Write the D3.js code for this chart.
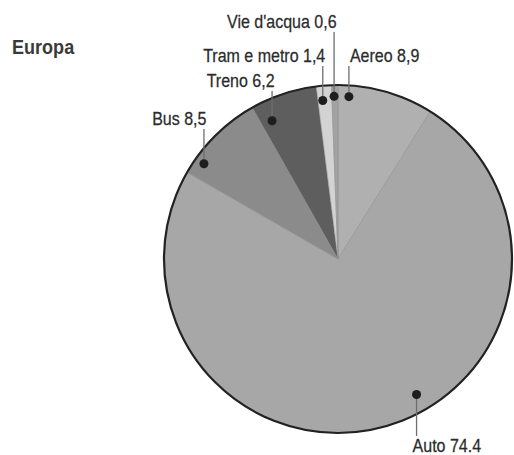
<!DOCTYPE html>
<html>
<head>
<meta charset="utf-8">
<script src="https://cdn.jsdelivr.net/npm/d3@7/dist/d3.min.js"></script>
<style>
  html, body { margin: 0; padding: 0; background: #fff; }
  svg { display: block; }
  text { font-family: "Liberation Sans", Arial, sans-serif; }
</style>
</head>
<body>
<svg id="chart" width="514" height="455"></svg>
<script>
// ---- data ----
const title = "Europa";
const categories = ["Aereo", "Auto", "Bus", "Treno", "Tram e metro", "Vie d'acqua"];
const values = [8.9, 74.4, 8.5, 6.2, 1.4, 0.6];
const valueLabels = ["8,9", "74.4", "8,5", "6,2", "1,4", "0,6"];
const colors = ["#b0b0b0", "#a7a7a7", "#8b8b8b", "#5e5e5e", "#d3d3d3", "#a2a2a2"];

// ---- layout (annotation placement) ----
const cx = 338, cy = 259, R = 174;
const condense = 0.89;
// where the marker dot sits inside each slice (fraction of slice span, fraction of radius)
const dotFrac = [0.12, 0.44, 0.18, 0.18, 0.34, 0.36];
const dotRad  = [0.935, 0.90, 0.945, 0.88, 0.915, 0.935];
// label baseline y and side
const labelY    = [62, 452, 125, 87, 62, 28];
const labelSide = ["right", "below", "left", "left", "left", "left"];

const svg = d3.select("#chart");

svg.append("text")
  .attr("transform", `translate(12,54) scale(0.86,1)`)
  .attr("font-size", 21).attr("font-weight", "bold")
  .attr("fill", "#3a3a3a")
  .text(title);

const data = categories.map((c, i) => ({ name: c, value: values[i], label: valueLabels[i], color: colors[i], i }));

const pie = d3.pie().sort(null).value(d => d.value);
const arcs = pie(data);
const arc = d3.arc().innerRadius(0).outerRadius(R);

const g = svg.append("g").attr("transform", `translate(${cx},${cy})`);

g.selectAll("path.slice")
  .data(arcs)
  .enter().append("path")
  .attr("class", "slice")
  .attr("d", arc)
  .attr("fill", d => d.data.color)
  .attr("stroke", "#8d8d8d")
  .attr("stroke-width", 0.5);

// outer ring
g.append("circle")
  .attr("r", R)
  .attr("fill", "none")
  .attr("stroke", "#222")
  .attr("stroke-width", 2.2);

// markers, leaders and labels
arcs.forEach(a => {
  const i = a.data.i;
  const ang = a.startAngle + dotFrac[i] * (a.endAngle - a.startAngle);
  const rr = R * dotRad[i];
  const x = cx + rr * Math.sin(ang);
  const y = cy - rr * Math.cos(ang);
  const side = labelSide[i];
  const ly = labelY[i];
  const lineEnd = side === "below" ? ly - 16 : ly + 4;

  svg.append("line")
    .attr("x1", x).attr("y1", y)
    .attr("x2", x).attr("y2", lineEnd)
    .attr("stroke", "#6e6e6e")
    .attr("stroke-width", 1.3);

  svg.append("circle")
    .attr("cx", x).attr("cy", y).attr("r", 4.5)
    .attr("fill", "#1e1e1e");

  let tx, anchor;
  if (side === "left") { tx = x + 2.5; anchor = "end"; }
  else if (side === "right") { tx = x + 1; anchor = "start"; }
  else { tx = x - 4; anchor = "start"; }

  svg.append("text")
    .attr("transform", `translate(${tx},${ly}) scale(${condense},1)`)
    .attr("text-anchor", anchor)
    .attr("font-size", 18)
    .attr("fill", "#2b2b2b")
    .attr("stroke", "#2b2b2b")
    .attr("stroke-width", 0.25)
    .text(a.data.name + " " + a.data.label);
});
</script>
</body>
</html>
